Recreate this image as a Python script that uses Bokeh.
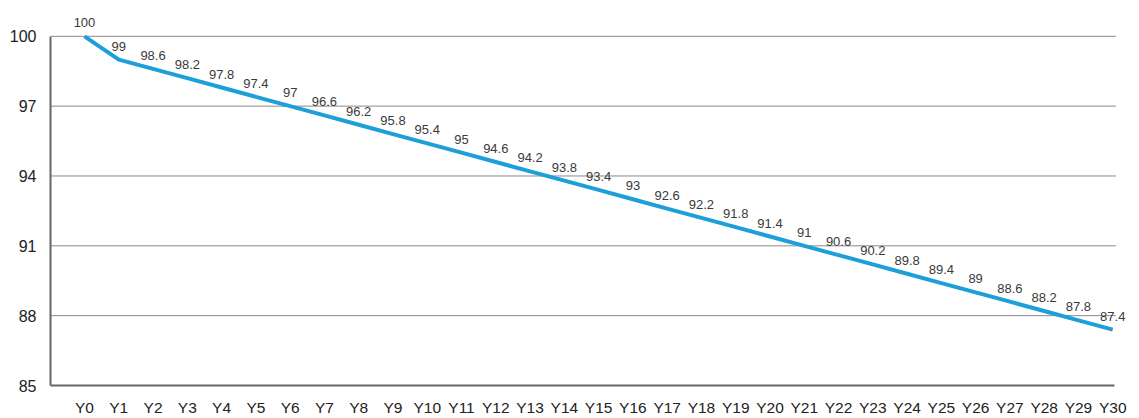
from bokeh.plotting import figure
from bokeh.models import ColumnDataSource, FixedTicker, Range1d, LabelSet
from bokeh.core.properties import value
from bokeh.embed import file_html
from bokeh.resources import INLINE

categories = ["Y0", "Y1", "Y2", "Y3", "Y4", "Y5", "Y6", "Y7", "Y8", "Y9", "Y10",
              "Y11", "Y12", "Y13", "Y14", "Y15", "Y16", "Y17", "Y18", "Y19", "Y20",
              "Y21", "Y22", "Y23", "Y24", "Y25", "Y26", "Y27", "Y28", "Y29", "Y30"]
values = [100, 99, 98.6, 98.2, 97.8, 97.4, 97, 96.6, 96.2, 95.8, 95.4,
          95, 94.6, 94.2, 93.8, 93.4, 93, 92.6, 92.2, 91.8, 91.4,
          91, 90.6, 90.2, 89.8, 89.4, 89, 88.6, 88.2, 87.8, 87.4]
y_ticks = [85, 88, 91, 94, 97, 100]

X_START, X_GRID_END, X_END = -0.992, 30.09, 30.46
Y_MIN, Y_MAX, Y_END = 85, 100, 100.85

idx = list(range(len(categories)))
labels = [("%g" % v) for v in values]
src = ColumnDataSource(dict(x=idx, y=values, lab=labels))

p = figure(width=1131, height=418, output_backend="svg", toolbar_location=None,
           x_range=Range1d(X_START, X_END), y_range=Range1d(Y_MIN, Y_END),
           min_border_left=50, min_border_right=3, min_border_top=16,
           min_border_bottom=29)
p.outline_line_color = None
p.background_fill_color = "white"
p.border_fill_color = "white"

# horizontal grid lines (ending where the original's grid ends)
grid_y = [t for t in y_ticks if t > Y_MIN]
p.segment(x0=[X_START] * len(grid_y), y0=grid_y,
          x1=[X_GRID_END] * len(grid_y), y1=grid_y,
          line_color="#8a8a8a", line_width=1)

p.line("x", "y", source=src, line_color="#1E9FDA", line_width=4)
p.add_layout(LabelSet(x="x", y="y", text="lab", source=src, text_align="center",
                      text_baseline="alphabetic", y_offset=9,
                      text_font=value("Liberation Sans"),
                      text_font_size=value("13px"),
                      text_color="#3a3a3a"))

p.xgrid.grid_line_color = None
p.ygrid.grid_line_color = None

p.yaxis.ticker = FixedTicker(ticks=y_ticks)
p.yaxis.bounds = (Y_MIN, Y_MAX)
p.yaxis.axis_line_color = "#666666"
p.yaxis.axis_line_width = 2
p.yaxis.major_tick_line_color = None
p.yaxis.minor_tick_line_color = None
p.yaxis.major_label_text_font = "Liberation Sans"
p.yaxis.major_label_text_font_size = "16px"
p.yaxis.major_label_text_color = "#222222"
p.yaxis.major_label_standoff = 8

p.xaxis.ticker = FixedTicker(ticks=idx)
p.xaxis.bounds = (X_START, 30.05)
p.xaxis.major_label_overrides = {i: c for i, c in zip(idx, categories)}
p.xaxis.axis_line_color = "#666666"
p.xaxis.axis_line_width = 2
p.xaxis.major_tick_line_color = None
p.xaxis.minor_tick_line_color = None
p.xaxis.major_label_text_font = "Liberation Sans"
p.xaxis.major_label_text_font_size = "15.5px"
p.xaxis.major_label_text_color = "#222222"
p.xaxis.major_label_standoff = 7

open("out.html", "w").write(file_html(p, INLINE))
